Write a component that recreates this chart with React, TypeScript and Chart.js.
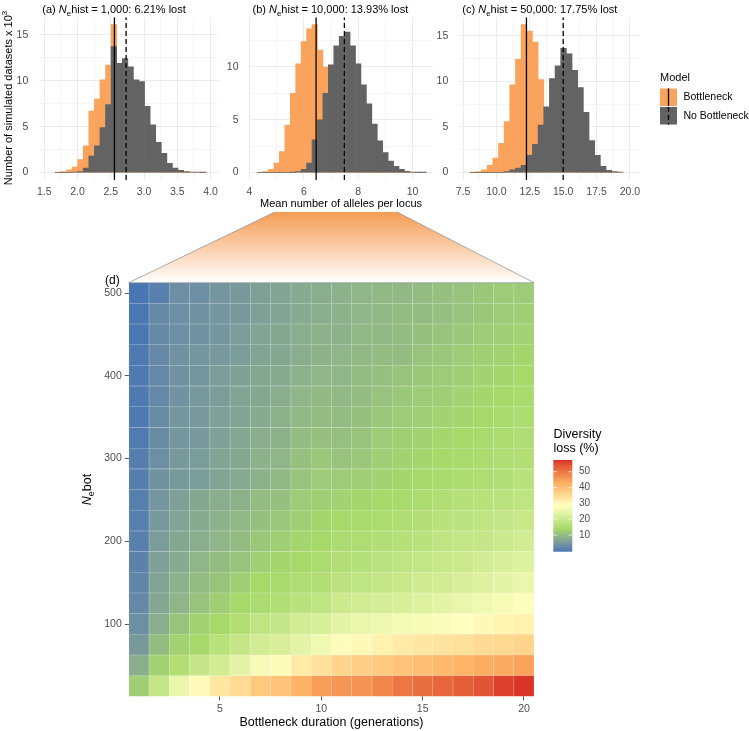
import React, { useEffect, useRef } from 'react';
import { Chart, registerables } from 'chart.js';
Chart.register(...registerables);

const FONT = '"Liberation Sans", Arial, Helvetica, sans-serif';
const ORANGE = '#f9a35c';
const GREY = '#636363';
const TICK_COL = '#4d4d4d';
const GRID_COL = '#ebebeb';

// ---------------- Histogram data (counts x 10^3) ----------------
const panelLetters = ['(a)', '(b)', '(c)'];
const neHist = ['1,000', '10,000', '50,000'];
const pctLost = ['6.21%', '13.93%', '17.75%'];

const binStartA = 1.709, binWidthA = 0.0838;
const bottleneckA = [0.03, 0.1, 0.3, 0.6, 1.4, 2.9, 6.7, 8.0, 10.1, 11.7, 16.1, 10, 7, 4, 2, 1, 0.4, 0.15, 0.05, 0, 0, 0, 0, 0, 0, 0, 0];
const noBottleneckA = [0, 0, 0, 0.05, 0.1, 0.5, 1.8, 2.9, 4.9, 7.4, 13.7, 11.9, 12.4, 11.5, 10.1, 9.9, 7.2, 5.2, 3.3, 2.1, 1.0, 0.5, 0.25, 0.1, 0.05, 0.03, 0.02];

const binStartB = 4.4, binWidthB = 0.2;
const bottleneckB = [0.03, 0.1, 0.3, 0.9, 2.0, 4.5, 7.5, 10.3, 12.4, 13.6, 14.0, 11.6, 10.0, 7.2, 4.6, 2.6, 1.3, 0.5, 0.2, 0.05, 0, 0, 0, 0, 0, 0, 0, 0, 0, 0, 0];
const noBottleneckB = [0, 0, 0, 0, 0, 0, 0.02, 0.1, 0.3, 0.9, 3.1, 5.0, 7.5, 10.2, 12.0, 12.9, 13.3, 12.0, 10.3, 8.3, 6.5, 4.6, 3.0, 1.9, 1.1, 0.6, 0.3, 0.12, 0.05, 0.02, 0.01];

const binStartC = 8.25, binWidthC = 0.4236;
const bottleneckC = [0.05, 0.1, 0.3, 0.8, 1.6, 3.2, 5.6, 9.6, 12.4, 16.2, 15.5, 14.3, 10.2, 7.0, 4.0, 2.0, 0.9, 0.4, 0.15, 0.05, 0, 0, 0, 0, 0, 0, 0];
const noBottleneckC = [0, 0, 0, 0, 0, 0, 0.1, 0.3, 0.5, 0.8, 1.9, 3.1, 5.2, 7.2, 10.3, 11.7, 13.6, 13.0, 11.2, 9.3, 6.6, 3.5, 1.9, 0.7, 0.25, 0.1, 0.05];

const meanBottleneck = [2.555, 6.45, 12.25];
const meanNoBottleneck = [2.73, 7.49, 15.0];

const xTickLabelsA = ['1.5', '2.0', '2.5', '3.0', '3.5', '4.0'];
const xTickLabelsB = ['4', '6', '8', '10'];
const xTickLabelsC = ['7.5', '10.0', '12.5', '15.0', '17.5', '20.0'];
const yTickLabelsA = ['0', '5', '10', '15'];
const yTickLabelsB = ['0', '5', '10'];
const yTickLabelsC = ['0', '5', '10', '15'];

const modelLabels = ['Bottleneck', 'No Bottleneck'];

// ---------------- Heatmap data: diversity loss (%) ----------------
const durations = [1, 2, 3, 4, 5, 6, 7, 8, 9, 10, 11, 12, 13, 14, 15, 16, 17, 18, 19, 20];
const neBot = [25, 50, 75, 100, 125, 150, 175, 200, 225, 250, 275, 300, 325, 350, 375, 400, 425, 450, 475, 500];
const loss25 = [12.5, 19, 25, 29, 33, 35, 38, 39, 42, 45, 46, 46.5, 48, 50, 51, 52, 53, 54, 56, 57];
const loss50 = [8, 13, 16, 19, 21, 24, 27, 29, 32, 34, 36, 37, 38, 39, 40, 41, 42, 43, 43.5, 44.5];
const loss75 = [5, 10, 13, 14, 17, 19, 21, 22, 24, 26, 29, 29.5, 31, 32, 33, 33.5, 34, 35, 35.5, 36];
const loss100 = [3.5, 8, 11, 13, 14, 16, 18, 19, 21, 22, 24, 25, 25.5, 26.5, 27, 27.5, 28.5, 29.5, 30.5, 31];
const loss125 = [2.5, 7, 9, 11, 12.5, 14, 15, 16, 17, 18, 20, 21, 21.5, 22, 23, 24, 25, 26, 27, 28];
const loss150 = [2, 6.5, 8.5, 10, 11, 12.5, 14, 14.5, 15.5, 16, 17.5, 18, 19, 19.5, 20.5, 21, 22, 23, 24, 25];
const loss175 = [1.5, 6, 7.5, 9, 10, 11, 12.5, 13.5, 14, 15, 16, 16.5, 17.5, 18, 18.5, 19.5, 20, 21, 22, 23];
const loss200 = [1.2, 5.5, 7, 8, 9, 10, 11.5, 12.5, 13.5, 14, 15, 15.5, 16, 16.5, 17, 18, 18.5, 19, 20, 21];
const loss225 = [1, 5, 6.5, 7.5, 8.5, 9.5, 10.5, 11.5, 12.5, 13.5, 14, 14.5, 15, 15.5, 16, 17, 17.5, 18, 19, 19.5];
const loss250 = [1, 4.5, 6, 7, 8, 8.5, 10, 10.5, 12, 12.5, 13, 13.5, 14, 14.5, 15, 16, 16.5, 17, 17.5, 18];
const loss275 = [0.8, 4, 5, 5.5, 6.5, 7.5, 8.5, 9.5, 11, 12, 12, 12.5, 13, 13.5, 14, 14.5, 15, 15.5, 16, 17];
const loss300 = [0.8, 3.5, 5, 5.5, 6.5, 7, 8.5, 9, 10.5, 11.5, 11, 11.5, 12.5, 13, 13.5, 14, 14.5, 15, 15.5, 16];
const loss325 = [0.5, 3, 4.5, 5, 6, 7, 8, 8.5, 10, 10.5, 10.5, 11, 12, 12.5, 13, 13.5, 14, 14.5, 15, 15.5];
const loss350 = [0.3, 3, 4.5, 5, 6, 6.5, 7.5, 8.5, 9.5, 10, 10, 10.5, 11.5, 12, 12.5, 13, 13.5, 14, 14.5, 15];
const loss375 = [0.3, 2.5, 4, 5, 5.5, 6.5, 7, 8, 9, 9.5, 9.5, 10, 11, 11.5, 12, 12.5, 13, 13.5, 14, 14.5];
const loss400 = [0.2, 2.5, 4, 4.5, 5.5, 6, 7, 7.5, 8.5, 9, 9, 10, 10.5, 11, 11.5, 12, 12.5, 13, 13.5, 14];
const loss425 = [0.2, 2.5, 4, 4.5, 5, 5.5, 6.5, 7, 8, 8.5, 9, 9.5, 10, 10, 11, 11.5, 12, 12.5, 13, 13.5];
const loss450 = [0, 2.5, 3.5, 4, 4.5, 5.5, 6.5, 7, 8, 8.5, 8.5, 9.5, 9.5, 10, 10.5, 11, 11.5, 12, 12.5, 13];
const loss475 = [0, 2.5, 3.5, 4, 4.5, 5, 6, 6.5, 7.5, 8, 8.5, 9, 9.5, 10, 10, 10.5, 11, 11.5, 12, 12.5];
const loss500 = [-0.2, 1.2, 3.5, 3.5, 4.5, 5, 6, 6.5, 7.5, 8, 8.5, 9, 9.5, 9.5, 10, 10.5, 11, 11.5, 12, 12];
const lossRows = [loss25, loss50, loss75, loss100, loss125, loss150, loss175, loss200, loss225, loss250,
  loss275, loss300, loss325, loss350, loss375, loss400, loss425, loss450, loss475, loss500];

const xTicksHeat = [5, 10, 15, 20];
const yTicksHeat = [100, 200, 300, 400, 500];
const colorbarTicks = [10, 20, 30, 40, 50];
const LOSS_MIN = -0.5, LOSS_MAX = 57.4;
const PALETTE = ['#4575b4', '#a6d96a', '#ffffbf', '#fdae61', '#d73027'];

// ---------------- colour helpers (Lab interpolation) ----------------
function hexToRgb(h: string) {
  const n = parseInt(h.slice(1), 16);
  return [(n >> 16) & 255, (n >> 8) & 255, n & 255];
}
function toLin(c: number) { c /= 255; return c <= 0.04045 ? c / 12.92 : Math.pow((c + 0.055) / 1.055, 2.4); }
function fromLin(c: number) { const v = c <= 0.0031308 ? 12.92 * c : 1.055 * Math.pow(Math.max(0, c), 1 / 2.4) - 0.055; return Math.max(0, Math.min(255, Math.round(v * 255))); }
const WX = 0.95047, WY = 1, WZ = 1.08883;
function fLab(t: number) { return t > 0.008856 ? Math.cbrt(t) : 7.787 * t + 16 / 116; }
function fInv(f: number) { const f3 = f * f * f; return f3 > 0.008856 ? f3 : (f - 16 / 116) / 7.787; }
function hexToLab(h: string) {
  const [R, G, B] = hexToRgb(h).map(toLin);
  const X = (0.4124564 * R + 0.3575761 * G + 0.1804375 * B) / WX;
  const Y = (0.2126729 * R + 0.7151522 * G + 0.0721750 * B) / WY;
  const Z = (0.0193339 * R + 0.1191920 * G + 0.9503041 * B) / WZ;
  const fx = fLab(X), fy = fLab(Y), fz = fLab(Z);
  return [116 * fy - 16, 500 * (fx - fy), 200 * (fy - fz)];
}
function labToRgb(L: number, a: number, b: number) {
  const fy = (L + 16) / 116, fx = fy + a / 500, fz = fy - b / 200;
  const X = fInv(fx) * WX, Y = fInv(fy) * WY, Z = fInv(fz) * WZ;
  const r = 3.2404542 * X - 1.5371385 * Y - 0.4985314 * Z;
  const g = -0.9692660 * X + 1.8760108 * Y + 0.0415560 * Z;
  const bb = 0.0556434 * X - 0.2040259 * Y + 1.0572252 * Z;
  return [fromLin(r), fromLin(g), fromLin(bb)];
}
const PAL_LAB = PALETTE.map(hexToLab);
function lossRgb(v: number) {
  const t = Math.max(0, Math.min(1, (v - LOSS_MIN) / (LOSS_MAX - LOSS_MIN)));
  const seg = t * (PAL_LAB.length - 1);
  const i = Math.min(PAL_LAB.length - 2, Math.floor(seg));
  const f = seg - i;
  const A = PAL_LAB[i], B = PAL_LAB[i + 1];
  return labToRgb(A[0] + (B[0] - A[0]) * f, A[1] + (B[1] - A[1]) * f, A[2] + (B[2] - A[2]) * f);
}
function lossColor(v: number) { const [r, g, b] = lossRgb(v); return `rgb(${r},${g},${b})`; }
function lossBorder(v: number) {
  const [r, g, b] = lossRgb(v);
  const m = (c: number) => Math.round(c + (255 - c) * 0.4);
  return `rgb(${m(r)},${m(g)},${m(b)})`;
}

// ---------------- rich text ----------------
type Part = { t: string; it?: boolean; sub?: boolean; sup?: boolean };
function fontFor(p: Part, size: number) {
  const s = p.sub || p.sup ? size * 0.72 : size;
  return `${p.it ? 'italic ' : ''}${s}px ${FONT}`;
}
function richWidth(ctx: CanvasRenderingContext2D, parts: Part[], size: number) {
  let w = 0;
  for (const p of parts) { ctx.font = fontFor(p, size); w += ctx.measureText(p.t).width; }
  return w;
}
function drawRich(ctx: CanvasRenderingContext2D, parts: Part[], x: number, y: number, size: number, color: string, align: 'left' | 'center') {
  ctx.save();
  ctx.fillStyle = color;
  ctx.textBaseline = 'middle';
  ctx.textAlign = 'left';
  let cx = align === 'center' ? x - richWidth(ctx, parts, size) / 2 : x;
  for (const p of parts) {
    ctx.font = fontFor(p, size);
    const dy = p.sub ? size * 0.32 : p.sup ? -size * 0.38 : 0;
    ctx.fillText(p.t, cx, y + dy);
    cx += ctx.measureText(p.t).width;
  }
  ctx.restore();
}

function withMinors(majors: number[], lo: number, hi: number) {
  const step = majors[1] - majors[0];
  const all = [majors[0] - step / 2];
  majors.forEach((m) => { all.push(m, m + step / 2); });
  return all.filter((v) => v >= lo - 1e-9 && v <= hi + 1e-9).sort((a, b) => a - b);
}
const isIn = (arr: number[], v: number) => arr.some((m) => Math.abs(m - v) < 1e-9);

// ---------------- histogram panel config ----------------
type HistSpec = {
  idx: number; left: number; width: number; height: number;
  areaLeft: number; areaRight: number; xMin: number; xMax: number; yMin: number; yMax: number;
  binStart: number; binWidth: number; bott: number[]; noB: number[];
  xLabels: string[]; yLabels: string[]; extra?: (ctx: CanvasRenderingContext2D, left: number) => void;
};
const AREA_TOP = 16.5, AREA_BOTTOM = 180;

function histConfig(p: HistSpec): any {
  const centers = p.bott.map((_, i) => p.binStart + i * p.binWidth);
  const xMaj = p.xLabels.map(parseFloat);
  const yMaj = p.yLabels.map(parseFloat);
  const xT = withMinors(xMaj, p.xMin, p.xMax);
  const yT = withMinors(yMaj, p.yMin, p.yMax);
  const titleParts: Part[] = [
    { t: panelLetters[p.idx] + ' ' }, { t: 'N', it: true }, { t: 'e', sub: true },
    { t: `hist = ${neHist[p.idx]}: ${pctLost[p.idx]} lost` },
  ];
  const plugin = {
    id: 'histExtras' + p.idx,
    afterDraw(chart: any) {
      const ctx = chart.ctx as CanvasRenderingContext2D;
      drawRich(ctx, titleParts, p.areaLeft - p.left + 3, 10, 11, '#000', 'left');
      if (p.extra) p.extra(ctx, p.left);
    },
  };
  const mb = meanBottleneck[p.idx], mn = meanNoBottleneck[p.idx];
  return {
    type: 'bar',
    data: {
      datasets: [
        { type: 'line', data: [{ x: mb, y: p.yMin }, { x: mb, y: p.yMax }], borderColor: '#000', borderWidth: 1.3, pointRadius: 0, order: 0 },
        { type: 'line', data: [{ x: mn, y: p.yMin }, { x: mn, y: p.yMax }], borderColor: '#000', borderWidth: 1.3, borderDash: [5, 3], pointRadius: 0, order: 0 },
        { type: 'bar', label: modelLabels[1], data: centers.map((x, i) => ({ x, y: p.noB[i] })), backgroundColor: GREY, order: 1 },
        { type: 'bar', label: modelLabels[0], data: centers.map((x, i) => ({ x, y: p.bott[i] })), backgroundColor: ORANGE, order: 2 },
      ],
    },
    options: {
      animation: false, responsive: false, devicePixelRatio: 1,
      layout: { padding: { top: AREA_TOP, right: p.left + p.width - p.areaRight, left: 0, bottom: 0 } },
      plugins: { legend: { display: false }, tooltip: { enabled: false } },
      datasets: { bar: { grouped: false, barPercentage: 1, categoryPercentage: 1, borderWidth: 0 } },
      scales: {
        x: {
          type: 'linear', min: p.xMin, max: p.xMax, offset: false,
          afterBuildTicks: (s: any) => { s.ticks = xT.map((v) => ({ value: v })); },
          afterFit: (s: any) => { s.height = p.height - AREA_BOTTOM; },
          grid: { offset: false, color: GRID_COL, lineWidth: (c: any) => (c.tick && isIn(xMaj, c.tick.value) ? 1 : 0.5), drawTicks: false },
          border: { display: false },
          ticks: {
            autoSkip: false, maxRotation: 0, padding: 6, color: TICK_COL, font: { family: FONT, size: 10.5 },
            callback: (v: number) => { const k = xMaj.findIndex((m) => Math.abs(m - v) < 1e-9); return k >= 0 ? p.xLabels[k] : ''; },
          },
        },
        y: {
          type: 'linear', min: p.yMin, max: p.yMax,
          afterBuildTicks: (s: any) => { s.ticks = yT.map((v) => ({ value: v })); },
          afterFit: (s: any) => { s.width = p.areaLeft - p.left; },
          grid: { offset: false, color: GRID_COL, lineWidth: (c: any) => (c.tick && isIn(yMaj, c.tick.value) ? 1 : 0.5), drawTicks: false },
          border: { display: false },
          ticks: {
            autoSkip: false, padding: 11, color: TICK_COL, font: { family: FONT, size: 10.5 },
            callback: (v: number) => { const k = yMaj.findIndex((m) => Math.abs(m - v) < 1e-9); return k >= 0 ? p.yLabels[k] : ''; },
          },
        },
      },
    },
    plugins: [plugin],
  };
}

const specA: HistSpec = {
  idx: 0, left: 0, width: 224, height: 200, areaLeft: 39.3, areaRight: 221.7,
  xMin: 1.426, xMax: 4.124, yMin: -0.81, yMax: 16.9,
  binStart: binStartA, binWidth: binWidthA, bott: bottleneckA, noB: noBottleneckA,
  xLabels: xTickLabelsA, yLabels: yTickLabelsA,
  extra: (ctx) => {
    ctx.save();
    ctx.translate(9, 98);
    ctx.rotate(-Math.PI / 2);
    drawRich(ctx, [{ t: 'Number of simulated datasets x 10' }, { t: '3', sup: true }], 0, 0, 11, '#000', 'center');
    ctx.restore();
  },
};
const specB: HistSpec = {
  idx: 1, left: 222, width: 212, height: 212, areaLeft: 249.5, areaRight: 433,
  xMin: 4.0, xMax: 10.75, yMin: -0.7, yMax: 14.7,
  binStart: binStartB, binWidth: binWidthB, bott: bottleneckB, noB: noBottleneckB,
  xLabels: xTickLabelsB, yLabels: yTickLabelsB,
  extra: (ctx, left) => {
    drawRich(ctx, [{ t: 'Mean number of alleles per locus' }], 341 - left, 204, 11, '#000', 'center');
  },
};
const specC: HistSpec = {
  idx: 2, left: 434, width: 315, height: 200, areaLeft: 459.3, areaRight: 640,
  xMin: 7.223, xMax: 20.75, yMin: -0.81, yMax: 17.01,
  binStart: binStartC, binWidth: binWidthC, bott: bottleneckC, noB: noBottleneckC,
  xLabels: xTickLabelsC, yLabels: yTickLabelsC,
  extra: (ctx, left) => {
    const kx = 660 - left, kw = 17, kh = 17.5;
    drawRich(ctx, [{ t: 'Model' }], kx, 78, 11, '#000', 'left');
    const keys = [{ y: 88.5, c: ORANGE, dash: [] as number[] }, { y: 107, c: GREY, dash: [5, 3] }];
    keys.forEach((k, i) => {
      ctx.fillStyle = k.c;
      ctx.fillRect(kx, k.y, kw, kh);
      ctx.save();
      ctx.strokeStyle = '#000'; ctx.lineWidth = 1.3; ctx.setLineDash(k.dash);
      ctx.beginPath(); ctx.moveTo(kx + kw / 2, k.y); ctx.lineTo(kx + kw / 2, k.y + kh); ctx.stroke();
      ctx.restore();
      drawRich(ctx, [{ t: modelLabels[i] }], 683.5 - left, k.y + kh / 2, 10.5, '#000', 'left');
    });
  },
};

// ---------------- heatmap config ----------------
const HEAT_TOP = 205, HEAT_H = 526;
const AREA_L = 128.8, AREA_R = 534.1, AREA_T = 282.7, AREA_B = 696.4;

function heatConfig(): any {
  const half = (neBot[1] - neBot[0]) / 2;
  const datasets = neBot.map((ne, r) => ({
    type: 'bar',
    data: durations.map((d) => ({ x: d, y: [ne - half, ne + half] })),
    backgroundColor: lossRows[r].map(lossColor),
    borderColor: lossRows[r].map(lossBorder),
    borderWidth: 0.6,
    borderSkipped: false,
  }));
  const plugin = {
    id: 'heatExtras',
    afterDraw(chart: any) {
      const ctx = chart.ctx as CanvasRenderingContext2D;
      const oy = -HEAT_TOP;
      // funnel
      const tl = [275, 212], tr = [397, 212];
      const bl = [chart.chartArea.left, chart.chartArea.top], br = [chart.chartArea.right, chart.chartArea.top];
      const g = ctx.createLinearGradient(0, tl[1] + oy, 0, bl[1]);
      g.addColorStop(0, 'rgb(245,156,84)');
      g.addColorStop(1, 'rgb(255,255,255)');
      ctx.save();
      ctx.beginPath();
      ctx.moveTo(tl[0], tl[1] + oy); ctx.lineTo(tr[0], tr[1] + oy); ctx.lineTo(br[0], br[1]); ctx.lineTo(bl[0], bl[1]); ctx.closePath();
      ctx.fillStyle = g; ctx.fill();
      ctx.beginPath();
      ctx.moveTo(tl[0], tl[1] + oy); ctx.lineTo(bl[0], bl[1]); ctx.lineTo(br[0], br[1]); ctx.lineTo(tr[0], tr[1] + oy);
      ctx.strokeStyle = '#8a8a8a'; ctx.lineWidth = 0.7; ctx.stroke();
      ctx.restore();
      // (d)
      drawRich(ctx, [{ t: '(d)' }], 105, 281 + oy, 12, '#000', 'left');
      // axis titles
      drawRich(ctx, [{ t: 'Bottleneck duration (generations)' }], (chart.chartArea.left + chart.chartArea.right) / 2, 723 + oy, 12.5, '#000', 'center');
      ctx.save();
      ctx.translate(88, (chart.chartArea.top + chart.chartArea.bottom) / 2);
      ctx.rotate(-Math.PI / 2);
      drawRich(ctx, [{ t: 'N', it: true }, { t: 'e', sub: true }, { t: 'bot' }], 0, 0, 12.5, '#000', 'center');
      ctx.restore();
      // colorbar
      const cbL = 553.3, cbR = 572.3, cbT = 460 + oy, cbB = 551.7 + oy;
      const cg = ctx.createLinearGradient(0, cbB, 0, cbT);
      for (let i = 0; i <= 40; i++) cg.addColorStop(i / 40, lossColor(LOSS_MIN + (LOSS_MAX - LOSS_MIN) * i / 40));
      ctx.fillStyle = cg;
      ctx.fillRect(cbL, cbT, cbR - cbL, cbB - cbT);
      drawRich(ctx, [{ t: 'Diversity' }], 553.5, 434.3 + oy, 12.5, '#000', 'left');
      drawRich(ctx, [{ t: 'loss (%)' }], 553.5, 448.8 + oy, 12.5, '#000', 'left');
      colorbarTicks.forEach((v) => {
        const y = cbB - ((v - LOSS_MIN) / (LOSS_MAX - LOSS_MIN)) * (cbB - cbT);
        ctx.save();
        ctx.strokeStyle = 'rgba(255,255,255,0.9)'; ctx.lineWidth = 0.8;
        ctx.beginPath();
        ctx.moveTo(cbL, y); ctx.lineTo(cbL + 3.8, y);
        ctx.moveTo(cbR - 3.8, y); ctx.lineTo(cbR, y);
        ctx.stroke();
        ctx.restore();
        drawRich(ctx, [{ t: String(v) }], 579, y, 10, TICK_COL, 'left');
      });
    },
  };
  return {
    type: 'bar',
    data: { datasets },
    options: {
      animation: false, responsive: false, devicePixelRatio: 1,
      layout: { padding: { left: AREA_L - 40, right: 749 - AREA_R, top: AREA_T - HEAT_TOP, bottom: HEAT_TOP + HEAT_H - AREA_B - 22 } },
      plugins: { legend: { display: false }, tooltip: { enabled: false } },
      datasets: { bar: { grouped: false, barPercentage: 1, categoryPercentage: 1 } },
      scales: {
        x: {
          type: 'linear', min: 0.5, max: 20.5, offset: false,
          afterBuildTicks: (s: any) => { s.ticks = xTicksHeat.map((v) => ({ value: v })); },
          afterFit: (s: any) => { s.height = 22; },
          grid: { offset: false, drawOnChartArea: false, drawTicks: true, tickLength: 4, tickColor: '#333', tickWidth: 0.8 },
          border: { display: false },
          ticks: {
            autoSkip: false, maxRotation: 0, padding: 2, color: TICK_COL, font: { family: FONT, size: 10.5 },
            callback: (v: number) => String(v),
          },
        },
        y: {
          type: 'linear', min: 12.5, max: 512.5,
          afterBuildTicks: (s: any) => { s.ticks = yTicksHeat.map((v) => ({ value: v })); },
          afterFit: (s: any) => { s.width = 40; },
          grid: { offset: false, drawOnChartArea: false, drawTicks: true, tickLength: 4, tickColor: '#333', tickWidth: 0.8 },
          border: { display: false },
          ticks: { autoSkip: false, padding: 3, color: TICK_COL, font: { family: FONT, size: 10.5 }, callback: (v: number) => String(v) },
        },
      },
    },
    plugins: [plugin],
  };
}

function ChartCanvas({ left, top, width, height, make }: { left: number; top: number; width: number; height: number; make: () => any }) {
  const ref = useRef<HTMLCanvasElement>(null);
  useEffect(() => {
    const chart = new Chart(ref.current as HTMLCanvasElement, make());
    return () => chart.destroy();
  }, []);
  return (
    <canvas ref={ref} width={width} height={height}
      style={{ position: 'absolute', left, top, width, height, display: 'block' }} />
  );
}

export default function App() {
  return (
    <div style={{ position: 'absolute', left: 0, top: 0, width: 749, height: 731, background: '#fff', overflow: 'hidden' }}>
      <ChartCanvas left={0} top={HEAT_TOP} width={749} height={HEAT_H} make={heatConfig} />
      <ChartCanvas left={specA.left} top={0} width={specA.width} height={specA.height} make={() => histConfig(specA)} />
      <ChartCanvas left={specB.left} top={0} width={specB.width} height={specB.height} make={() => histConfig(specB)} />
      <ChartCanvas left={specC.left} top={0} width={specC.width} height={specC.height} make={() => histConfig(specC)} />
    </div>
  );
}
